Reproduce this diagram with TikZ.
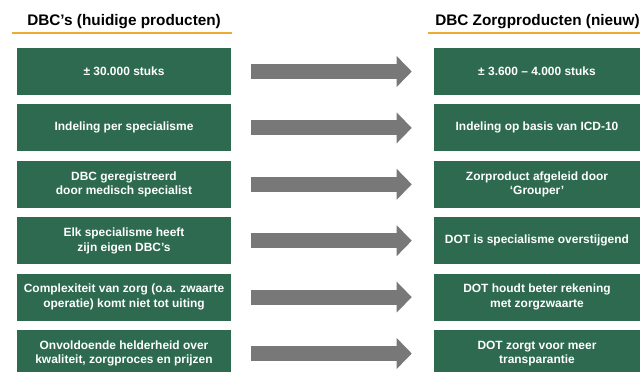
\documentclass[tikz,border=0pt]{standalone}
\usepackage{fontspec}
\setmainfont{Liberation Sans}
\usetikzlibrary{arrows.meta}
\definecolor{dbcgreen}{RGB}{45,106,79}
\definecolor{arrowgray}{RGB}{120,120,120}
\definecolor{rulegold}{RGB}{236,172,52}
\tikzset{%
  item/.style={fill=dbcgreen, text=white, align=center, inner sep=0pt,
    font=\fontsize{8.5}{10.3}\selectfont\bfseries, minimum height=1.175cm},% green box
  oldbox/.style={item, minimum width=5.35cm},% current DBC
  newbox/.style={item, minimum width=5.15cm},% new care product
  header/.style={font=\fontsize{10.9}{12}\selectfont\bfseries, inner sep=0pt, anchor=base west},
  titlerule/.style={rulegold, line width=1.4pt},% line under header
  change/.style={arrowgray, line width=10.7pt, -{Triangle[length=10.7pt,width=21.3pt]},
    shorten <=14.2pt, shorten >=15.6pt}% fat gray arrow
}

\begin{document}
\begin{tikzpicture}[x=0.025cm, y=-0.025cm]
\useasboundingbox (0,0) rectangle (640,371);
\clip (0,0) rectangle (640,371);
\fill[white] (0,0) rectangle (640,371);

\node[header] (oldhead) at (27,25) {DBC's (huidige producten)};
\node[header] (newhead) at (435,25) {DBC Zorgproducten (nieuw)};
\draw[titlerule] (12,33) -- (232,33);
\draw[titlerule] (428,33) -- (640,33);

\node[oldbox] (old1) at (124, 71.5) {± 30.000 stuks};
\node[oldbox] (old2) at (124,127.9) {Indeling per specialisme};
\node[oldbox] (old3) at (124,184.3) {DBC geregistreerd\\door medisch specialist};
\node[oldbox] (old4) at (124,240.7) {Elk specialisme heeft\\zijn eigen DBC's};
\node[oldbox] (old5) at (124,297.1) {Complexiteit van zorg (o.a. zwaarte\\operatie) komt niet tot uiting};
\node[oldbox] (old6) at (124,353.5) {Onvoldoende helderheid over\\kwaliteit, zorgproces en prijzen};

\node[newbox] (new1) at (537, 71.5) {± 3.600 – 4.000 stuks};
\node[newbox] (new2) at (537,127.9) {Indeling op basis van ICD-10};
\node[newbox] (new3) at (537,184.3) {Zorproduct afgeleid door\\‘Grouper’};
\node[newbox] (new4) at (537,240.7) {DOT is specialisme overstijgend};
\node[newbox] (new5) at (537,297.1) {DOT houdt beter rekening\\met zorgzwaarte};
\node[newbox] (new6) at (537,353.5) {DOT zorgt voor meer\\transparantie};

\draw[change] (old1) -- (new1);
\draw[change] (old2) -- (new2);
\draw[change] (old3) -- (new3);
\draw[change] (old4) -- (new4);
\draw[change] (old5) -- (new5);
\draw[change] (old6) -- (new6);

\end{tikzpicture}
\end{document}
